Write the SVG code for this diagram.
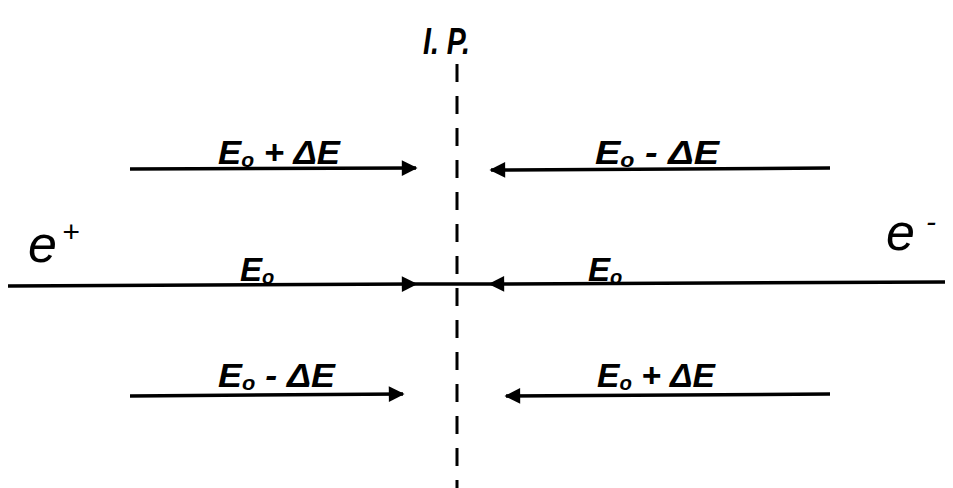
<svg xmlns="http://www.w3.org/2000/svg" width="953" height="488" viewBox="0 0 953 488">
<style>
.t{font-family:"Liberation Sans",Arial,sans-serif;font-style:italic;fill:#000}
.lbl{font-size:33px;font-weight:bold}
.sub{font-size:20px}
.big{font-size:52px}
.ln{stroke:#000;stroke-width:3.5;fill:none}
.dash{stroke:#000;stroke-width:3;stroke-dasharray:18 14;fill:none}
</style>
<defs>
<marker id="ah" viewBox="0 0 10 10" refX="9" refY="5" markerWidth="7" markerHeight="4.5" markerUnits="strokeWidth" orient="auto">
<path d="M0,0 L10,5 L0,10 z" fill="#000"/>
</marker>
</defs>
<rect width="953" height="488" fill="#fff"/>
<g id="ip">
<text class="t lbl" x="423" y="54" textLength="47" lengthAdjust="spacingAndGlyphs" style="font-size:36px">I. P.</text>
</g>
<g id="connectors">
<line class="dash" x1="457" y1="64" x2="457" y2="488"/>
<line class="ln" x1="130" y1="169" x2="416" y2="168" marker-end="url(#ah)"/>
<line class="ln" x1="830" y1="168" x2="491" y2="170" marker-end="url(#ah)"/>
<line class="ln" x1="8" y1="286" x2="416" y2="284" marker-end="url(#ah)"/>
<line class="ln" x1="416" y1="284" x2="490" y2="284"/>
<line class="ln" x1="945" y1="282" x2="490" y2="284" marker-end="url(#ah)"/>
<line class="ln" x1="130" y1="396" x2="403" y2="394" marker-end="url(#ah)"/>
<line class="ln" x1="830" y1="394" x2="506" y2="396" marker-end="url(#ah)"/>
</g>
<g id="eplus">
<text class="t big" x="28" y="262">e</text>
<text class="t" x="62" y="242" style="font-size:30px">+</text>
</g>
<g id="eminus">
<text class="t big" x="886" y="250">e</text>
<text class="t" x="926" y="232" style="font-size:30px">-</text>
</g>
<g id="l1">
<text class="t lbl" x="218" y="164" textLength="122" lengthAdjust="spacingAndGlyphs">E<tspan class="sub" dy="3">o</tspan><tspan dy="-3"> + ΔE</tspan></text>
</g>
<g id="r1">
<text class="t lbl" x="595" y="164" textLength="124" lengthAdjust="spacingAndGlyphs">E<tspan class="sub" dy="3">o</tspan><tspan dy="-3"> - ΔE</tspan></text>
</g>
<g id="l2">
<text class="t lbl" x="240" y="281">E<tspan class="sub" dy="3">o</tspan></text>
</g>
<g id="r2">
<text class="t lbl" x="588" y="281">E<tspan class="sub" dy="3">o</tspan></text>
</g>
<g id="l3">
<text class="t lbl" x="218" y="387" textLength="117" lengthAdjust="spacingAndGlyphs">E<tspan class="sub" dy="3">o</tspan><tspan dy="-3"> - ΔE</tspan></text>
</g>
<g id="r3">
<text class="t lbl" x="597" y="387" textLength="118" lengthAdjust="spacingAndGlyphs">E<tspan class="sub" dy="3">o</tspan><tspan dy="-3"> + ΔE</tspan></text>
</g>
</svg>
